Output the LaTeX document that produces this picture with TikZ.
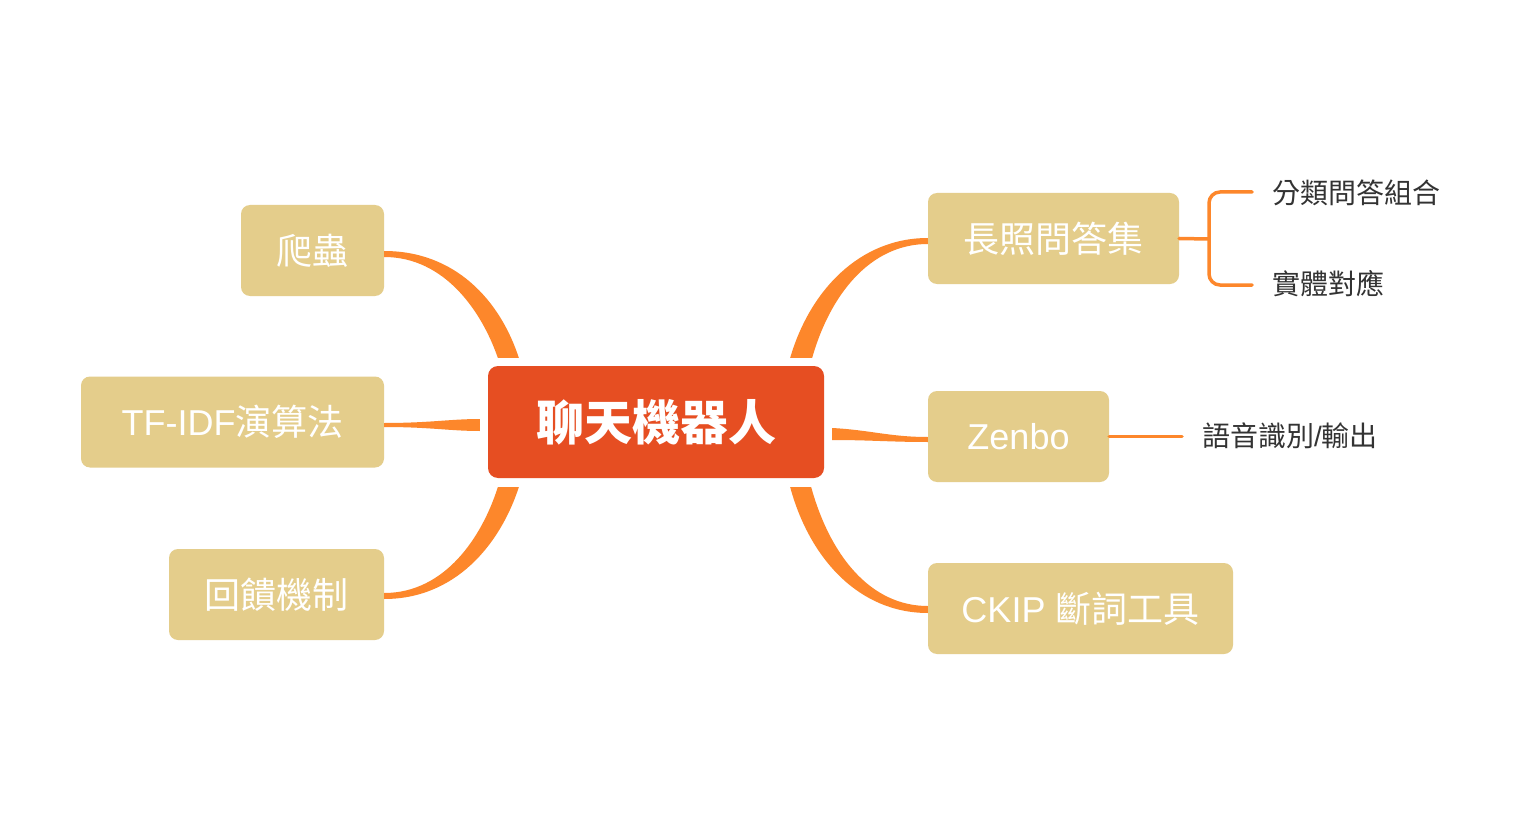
\documentclass[tikz,border=0pt]{standalone}
\usepackage{fontspec}
\setmainfont{Noto Sans CJK TC}
\newfontfamily\latinfont{Liberation Sans}
\usetikzlibrary{calc}
\definecolor{centralc}{HTML}{E64E22}
\definecolor{leafc}{HTML}{E4CD8B}
\definecolor{branchc}{HTML}{FD872B}
\definecolor{subtextc}{HTML}{333333}
\begin{document}
\begin{tikzpicture}[x=1pt,y=-1pt,
  centralbox/.style={fill=centralc, rounded corners=10pt, text=white, inner sep=0pt,
    font=\fontsize{48}{52}\selectfont\bfseries},
  leafbox/.style={fill=leafc, rounded corners=9pt, text=white, inner sep=0pt,
    font=\fontsize{36}{40}\selectfont},
  subitem/.style={text=subtextc, inner sep=0pt, anchor=west,
    font=\fontsize{28}{32}\selectfont},
  branchband/.style={fill=branchc},
  thinbranch/.style={draw=branchc, line width=3.5pt, line cap=round}]
\fill[white] (0,0) rectangle (1540,821);
\useasboundingbox (0,0) rectangle (1540,821);

% nodes
\node[centralbox, minimum width=336pt, minimum height=112pt] (c) at (656,422) {聊天機器人};
\node[leafbox, minimum width=143pt, minimum height=91pt] (pc) at (312.5,250.5) {爬蟲};
\node[leafbox, minimum width=303pt, minimum height=91pt] (tf) at (232.5,422) {{\latinfont TF-IDF}演算法};
\node[leafbox, minimum width=215pt, minimum height=91pt] (fk) at (276.5,594.5) {回饋機制};
\node[leafbox, minimum width=251pt, minimum height=91pt] (lz) at (1053.5,238.5) {長照問答集};
\node[leafbox, minimum width=181pt, minimum height=91pt] (zb) at (1018.5,436.5) {\latinfont Zenbo};
\node[leafbox, minimum width=305pt, minimum height=91pt] (ck) at (1080.5,608.5) {{\latinfont CKIP }斷詞工具};

\node[subitem] (s1) at (1272,193) {分類問答組合};
\node[subitem] (s2) at (1272,284) {實體對應};
\node[subitem] (s3) at (1202,436) {語音識別{\latinfont /}輸出};

% tapered branches
\fill[branchband] ($(pc.east)+(0,0.5)$) .. controls (455,251) and (500,300) .. ($(c.north west)+(31,-8)$)
  -- ($(c.north west)+(10,-8)$) .. controls (482,312) and (445,257) .. ($(pc.east)+(0,6.5)$) -- cycle;
\fill[branchband] ($(fk.east)+(0,4.5)$) .. controls (455,599) and (500,545) .. ($(c.south west)+(31,9)$)
  -- ($(c.south west)+(10,9)$) .. controls (482,537) and (445,593) .. ($(fk.east)+(0,-1.5)$) -- cycle;
\fill[branchband] ($(tf.east)+(0,1)$) .. controls (430,423) and (450,419) .. ($(c.west)+(-8,-3)$)
  -- ($(c.west)+(-8,9)$) .. controls (450,431) and (430,427) .. ($(tf.east)+(0,5)$) -- cycle;
\fill[branchband] ($(c.east)+(8,6)$) .. controls (870,430) and (890,437) .. ($(zb.west)+(0,0.5)$)
  -- ($(zb.west)+(0,5.5)$) .. controls (890,442) and (870,440) .. ($(c.east)+(8,18)$) -- cycle;
\fill[branchband] ($(c.north east)+(-34,-8)$) .. controls (810,290) and (860,238) .. ($(lz.west)+(0,-0.5)$)
  -- ($(lz.west)+(0,5.5)$) .. controls (870,244) and (830,295) .. ($(c.north east)+(-12,-8)$) -- cycle;
\fill[branchband] ($(c.south east)+(-34,9)$) .. controls (810,560) and (860,613) .. ($(ck.west)+(0,4.5)$)
  -- ($(ck.west)+(0,-2.5)$) .. controls (870,606) and (830,555) .. ($(c.south east)+(-13,9)$) -- cycle;

% sub branches
\coordinate (b1) at (1252,192);
\coordinate (b2) at (1252,285);
\coordinate (bm) at (1209,239);
\coordinate (z1) at (1182,436.5);
\draw[thinbranch] (lz.east) -- (bm);
\draw[thinbranch, rounded corners=11pt] (b1) -- (1209,192) -- (1209,285) -- (b2);
\draw[thinbranch] (zb.east) -- (z1);
\end{tikzpicture}
\end{document}
